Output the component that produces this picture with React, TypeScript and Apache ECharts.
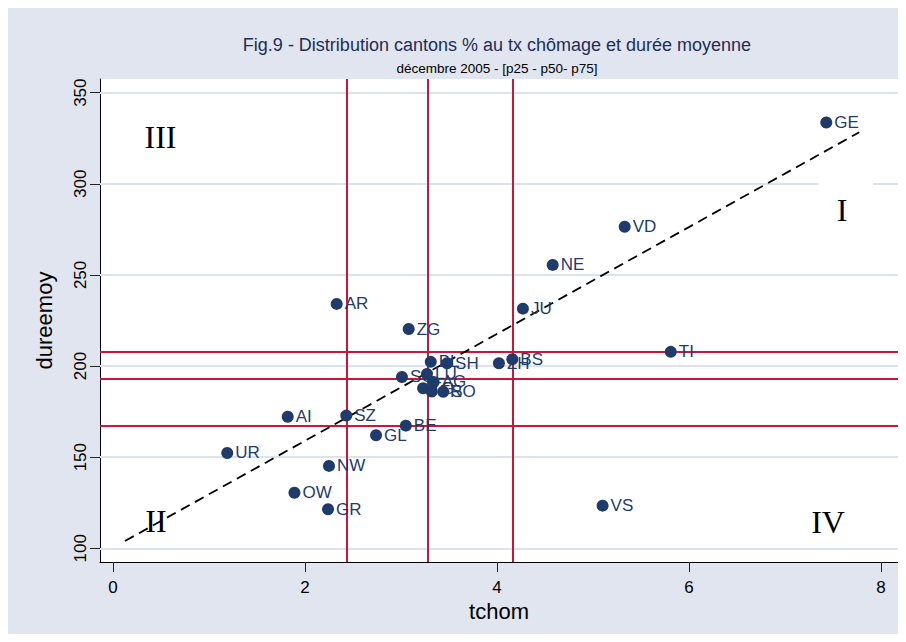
import React, { useEffect, useRef } from "react";
import * as echarts from "echarts";

const cantons = ["GE", "VD", "NE", "JU", "AR", "ZG", "TI", "BS", "ZH", "BL", "SH", "SG", "LU", "AG", "TG", "FR", "SO", "BE", "SZ", "AI", "GL", "UR", "NW", "OW", "GR", "VS"];
const tchom = [7.43, 5.33, 4.58, 4.27, 2.33, 3.08, 5.81, 4.16, 4.02, 3.31, 3.48, 3.01, 3.27, 3.34, 3.23, 3.32, 3.44, 3.05, 2.43, 1.82, 2.74, 1.19, 2.25, 1.89, 2.24, 5.10];
const dureemoy = [333.6, 276.4, 255.5, 231.5, 234.1, 220.3, 207.8, 203.7, 201.5, 202.3, 201.5, 194.0, 195.7, 191.3, 187.8, 186.0, 185.9, 167.3, 172.8, 172.2, 162.0, 152.3, 145.2, 130.5, 121.4, 123.4];

// percentiles p25, p50, p75
const pctX = [2.43, 3.28, 4.16];
const pctY = [167.2, 192.9, 207.7];

// fitted line end points
const fitLine = [[0.125, 104.0], [7.774, 328.3]];

const xTicks = [0, 2, 4, 6, 8];
const yTicks = [100, 150, 200, 250, 300, 350];

const titleText = "Fig.9 - Distribution cantons % au tx chômage et durée moyenne";
const subtitleText = "décembre 2005 - [p25 - p50- p75]";
const quadrants = ["I", "II", "III", "IV"];

const SANS = '"Liberation Sans", Arial, sans-serif';
const SERIF = '"Liberation Serif", "Times New Roman", serif';
const NAVY = "#1f3b6c";
const RED = "#c8163c";

export default function App() {
  const ref = useRef<HTMLDivElement>(null);
  useEffect(() => {
    const chart = echarts.init(ref.current!, null, { renderer: "svg" });
    chart.setOption({
      animation: false,
      backgroundColor: "#e0e5ef",
      grid: { left: 92, right: 8, top: 71, bottom: 72, show: true, backgroundColor: "#ffffff", borderWidth: 0 },
      xAxis: {
        type: "value",
        min: -0.1354,
        max: 8.177,
        axisLine: { show: true, onZero: false, lineStyle: { color: "#000", width: 1 } },
        axisTick: { show: true, length: 10, customValues: xTicks, lineStyle: { color: "#222" } },
        axisLabel: { customValues: xTicks, fontSize: 17, fontFamily: SANS, color: "#000", margin: 17 },
        splitLine: { show: false },
        name: "tchom",
        nameLocation: "middle",
        nameGap: 38,
        nameTextStyle: { fontSize: 22, fontFamily: SANS, color: "#000" },
      },
      yAxis: {
        type: "value",
        min: 92.48,
        max: 357.5,
        axisLine: { show: true, onZero: false, lineStyle: { color: "#000", width: 1 } },
        axisTick: { show: true, length: 10, customValues: yTicks, lineStyle: { color: "#222" } },
        axisLabel: { customValues: yTicks, rotate: 90, fontSize: 17, fontFamily: SANS, color: "#000", margin: 11 },
        splitLine: { show: false },
        name: "dureemoy",
        nameLocation: "middle",
        nameRotate: 90,
        nameGap: 45,
        nameTextStyle: { fontSize: 22, fontFamily: SANS, color: "#000" },
      },
      graphic: [
        { type: "text", x: 489, y: 37, z: 2, style: { text: titleText, fontSize: 18, fontFamily: SANS, fill: "#1f2d56", align: "center", verticalAlign: "middle" } },
        { type: "text", x: 489, y: 60, z: 2, style: { text: subtitleText, fontSize: 13.5, fontFamily: SANS, fill: "#000", align: "center", verticalAlign: "middle" } },
        { type: "rect", x: 811, y: 175, z: 2, shape: { width: 54, height: 54 }, style: { fill: "#ffffff" } },
        { type: "text", x: 834, y: 202, z: 2, style: { text: quadrants[0], fontSize: 32, fontFamily: SERIF, fill: "#000", align: "center", verticalAlign: "middle" } },
        { type: "text", x: 148, y: 513, z: 2, style: { text: quadrants[1], fontSize: 32, fontFamily: SERIF, fill: "#000", align: "center", verticalAlign: "middle" } },
        { type: "text", x: 152.5, y: 129, z: 2, style: { text: quadrants[2], fontSize: 32, fontFamily: SERIF, fill: "#000", align: "center", verticalAlign: "middle" } },
        { type: "text", x: 820, y: 513.7, z: 2, style: { text: quadrants[3], fontSize: 32, fontFamily: SERIF, fill: "#000", align: "center", verticalAlign: "middle" } },
      ],
      series: [
        {
          type: "line",
          data: [],
          z: 1,
          silent: true,
          markLine: {
            z: 1,
            silent: true,
            symbol: "none",
            label: { show: false },
            lineStyle: { color: "#dde3ee", width: 2, type: "solid" },
            data: yTicks.map((v) => ({ yAxis: v })),
          },
        },
        {
          type: "line",
          data: [],
          z: 3,
          silent: true,
          markLine: {
            z: 3,
            silent: true,
            symbol: "none",
            label: { show: false },
            lineStyle: { color: RED, width: 2, type: "solid" },
            data: [...pctX.map((v) => ({ xAxis: v })), ...pctY.map((v) => ({ yAxis: v }))],
          },
        },
        {
          type: "line",
          data: fitLine,
          z: 4,
          symbol: "none",
          lineStyle: { color: "#000", width: 1.8, type: [10, 6] },
        },
        {
          type: "scatter",
          z: 5,
          data: tchom.map((x, i) => [x, dureemoy[i], cantons[i]]),
          symbolSize: 12,
          itemStyle: { color: NAVY, opacity: 1 },
          label: {
            show: true,
            position: "right",
            distance: 2,
            formatter: (p: any) => p.data[2],
            color: NAVY,
            fontSize: 17,
            fontFamily: SANS,
          },
        },
      ],
    });
    return () => chart.dispose();
  }, []);
  return <div ref={ref} style={{ width: 898, height: 626, background: "#e0e5ef" }} />;
}
